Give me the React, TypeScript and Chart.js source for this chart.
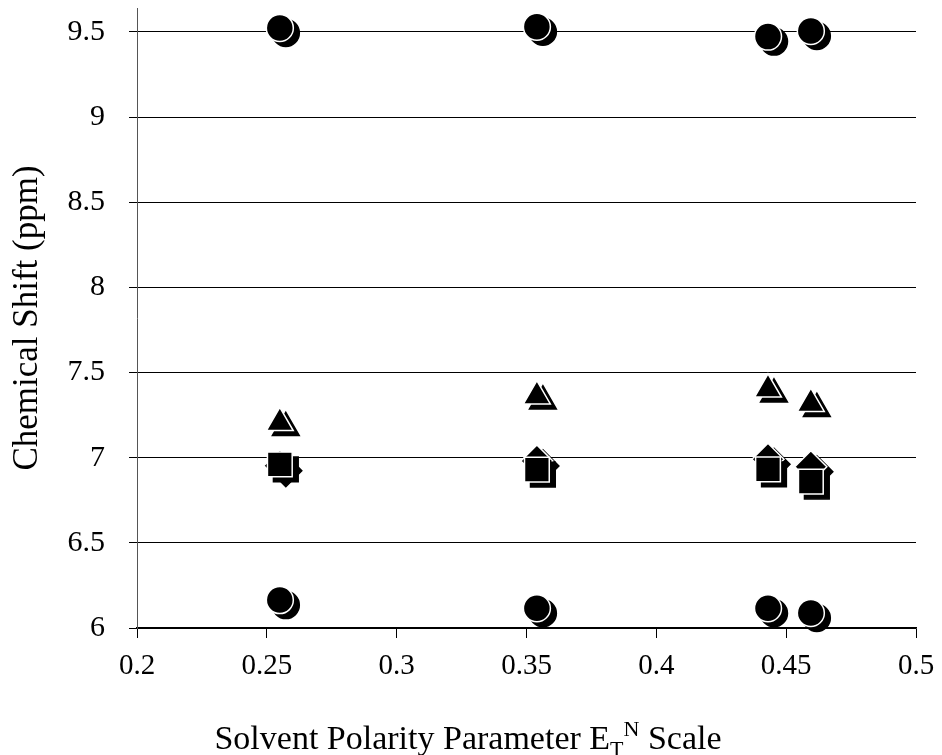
import React, { useEffect, useRef } from 'react';
import { Chart, registerables } from 'chart.js';

Chart.register(...registerables);

// Solvent polarity parameter (x) for the four solvents
const solventPolarity = [0.255, 0.354, 0.443, 0.4595];
// Chemical shifts (ppm) per proton
const circleHigh = [9.523, 9.53, 9.472, 9.505];
const triangleShift = [7.205, 7.361, 7.401, 7.317];
const diamondShift = [6.953, 6.981, 6.991, 6.947];
const squareShift = [6.96, 6.93, 6.932, 6.86];
const circleLow = [6.164, 6.116, 6.116, 6.088];

const xTickLabels = ['0.2', '0.25', '0.3', '0.35', '0.4', '0.45', '0.5'];
const yTickLabels = ['6', '6.5', '7', '7.5', '8', '8.5', '9', '9.5'];

const yTitle = 'Chemical Shift (ppm)';
const xTitleMain = 'Solvent Polarity Parameter E';
const xTitleSub = 'T';
const xTitleSup = 'N';
const xTitleEnd = ' Scale';

const toPoints = (ys: number[]) => ys.map((y, i) => ({ x: solventPolarity[i], y }));

const shadowPlugin = {
  id: 'markerShadow',
  beforeDatasetsDraw(chart: any) {
    const c = chart.ctx;
    c.save();
    c.shadowColor = '#000';
    c.shadowOffsetX = 6;
    c.shadowOffsetY = 5;
    c.shadowBlur = 0;
  },
  afterDatasetsDraw(chart: any) {
    chart.ctx.restore();
  },
};

const xTitlePlugin = {
  id: 'xTitleSubSup',
  afterDraw(chart: any) {
    const c = chart.ctx;
    c.save();
    c.fillStyle = '#000';
    c.textBaseline = 'alphabetic';
    const big = '34px "Liberation Serif"';
    const small = '22px "Liberation Serif"';
    c.font = big;
    const w1 = c.measureText(xTitleMain).width;
    const w4 = c.measureText(xTitleEnd).width;
    c.font = small;
    const w2 = c.measureText(xTitleSub).width;
    const w3 = c.measureText(xTitleSup).width;
    const total = w1 + w2 + w3 + w4;
    const baseline = 749;
    let x = 468 - total / 2;
    c.font = big;
    c.fillText(xTitleMain, x, baseline);
    x += w1;
    c.font = small;
    c.fillText(xTitleSub, x, baseline + 7);
    x += w2;
    c.fillText(xTitleSup, x, baseline - 13);
    x += w3;
    c.font = big;
    c.fillText(xTitleEnd, x, baseline);
    c.restore();
  },
};

function makeDataset(label: string, ys: number[], style: string, radius: number) {
  return {
    label,
    data: toPoints(ys),
    pointStyle: style,
    pointRadius: radius,
    pointHoverRadius: radius,
    pointBackgroundColor: '#000',
    pointBorderColor: '#fff',
    pointBorderWidth: 1.5,
    backgroundColor: '#000',
    borderColor: '#fff',
    showLine: false,
    clip: false as any,
  };
}

export default function App() {
  const ref = useRef<HTMLCanvasElement | null>(null);

  useEffect(() => {
    if (!ref.current) return;
    const chart = new Chart(ref.current, {
      type: 'scatter',
      data: {
        datasets: [
          makeDataset('H1', circleHigh, 'circle', 13.5),
          makeDataset('H5', circleLow, 'circle', 13.5),
          makeDataset('H2', triangleShift, 'triangle', 15.5),
          makeDataset('H4', squareShift, 'rect', 17.5),
          makeDataset('H3', diamondShift, 'rectRot', 16),
        ],
      },
      options: {
        responsive: false,
        animation: false,
        events: [],
        layout: { autoPadding: false, padding: { top: 8, right: 26, left: 0, bottom: 0 } },
        plugins: {
          legend: { display: false },
          tooltip: { enabled: false },
          title: { display: false },
        },
        scales: {
          x: {
            type: 'linear',
            min: 0.2,
            max: 0.5,
            afterFit: (s: any) => {
              s.height = 127;
              s.paddingLeft = 0;
              s.paddingRight = 0;
            },
            ticks: {
              stepSize: 0.05,
              color: '#000',
              font: { family: '"Liberation Serif"', size: 29 },
              padding: 11,
              maxRotation: 0,
              autoSkip: false,
              callback: (_v: any, i: number) => xTickLabels[i],
            },
            grid: {
              drawOnChartArea: false,
              drawTicks: true,
              tickLength: 10,
              color: '#000',
              lineWidth: 1,
            },
            border: { display: true, color: '#000', width: 1.5 },
            title: { display: false },
          },
          y: {
            type: 'linear',
            min: 6,
            max: 9.64,
            afterFit: (s: any) => {
              s.width = 137;
              s.paddingTop = 0;
              s.paddingBottom = 0;
            },
            ticks: {
              stepSize: 0.5,
              includeBounds: false,
              color: '#000',
              font: { family: '"Liberation Serif"', size: 30 },
              padding: 24,
              autoSkip: false,
              callback: (_v: any, i: number) => yTickLabels[i],
            },
            grid: {
              drawOnChartArea: true,
              drawTicks: true,
              tickLength: 8,
              color: '#000',
              lineWidth: 1,
            },
            border: { display: true, color: '#555', width: 1 },
            title: {
              display: true,
              text: yTitle,
              color: '#000',
              font: { family: '"Liberation Serif"', size: 35 },
              padding: { top: 7, bottom: 0 },
            },
          },
        },
      },
      plugins: [shadowPlugin, xTitlePlugin],
    });
    return () => chart.destroy();
  }, []);

  return (
    <div style={{ position: 'absolute', left: 0, top: 0, width: 942, height: 755, background: '#fff' }}>
      <canvas ref={ref} width={942} height={755} style={{ display: 'block' }} />
    </div>
  );
}
